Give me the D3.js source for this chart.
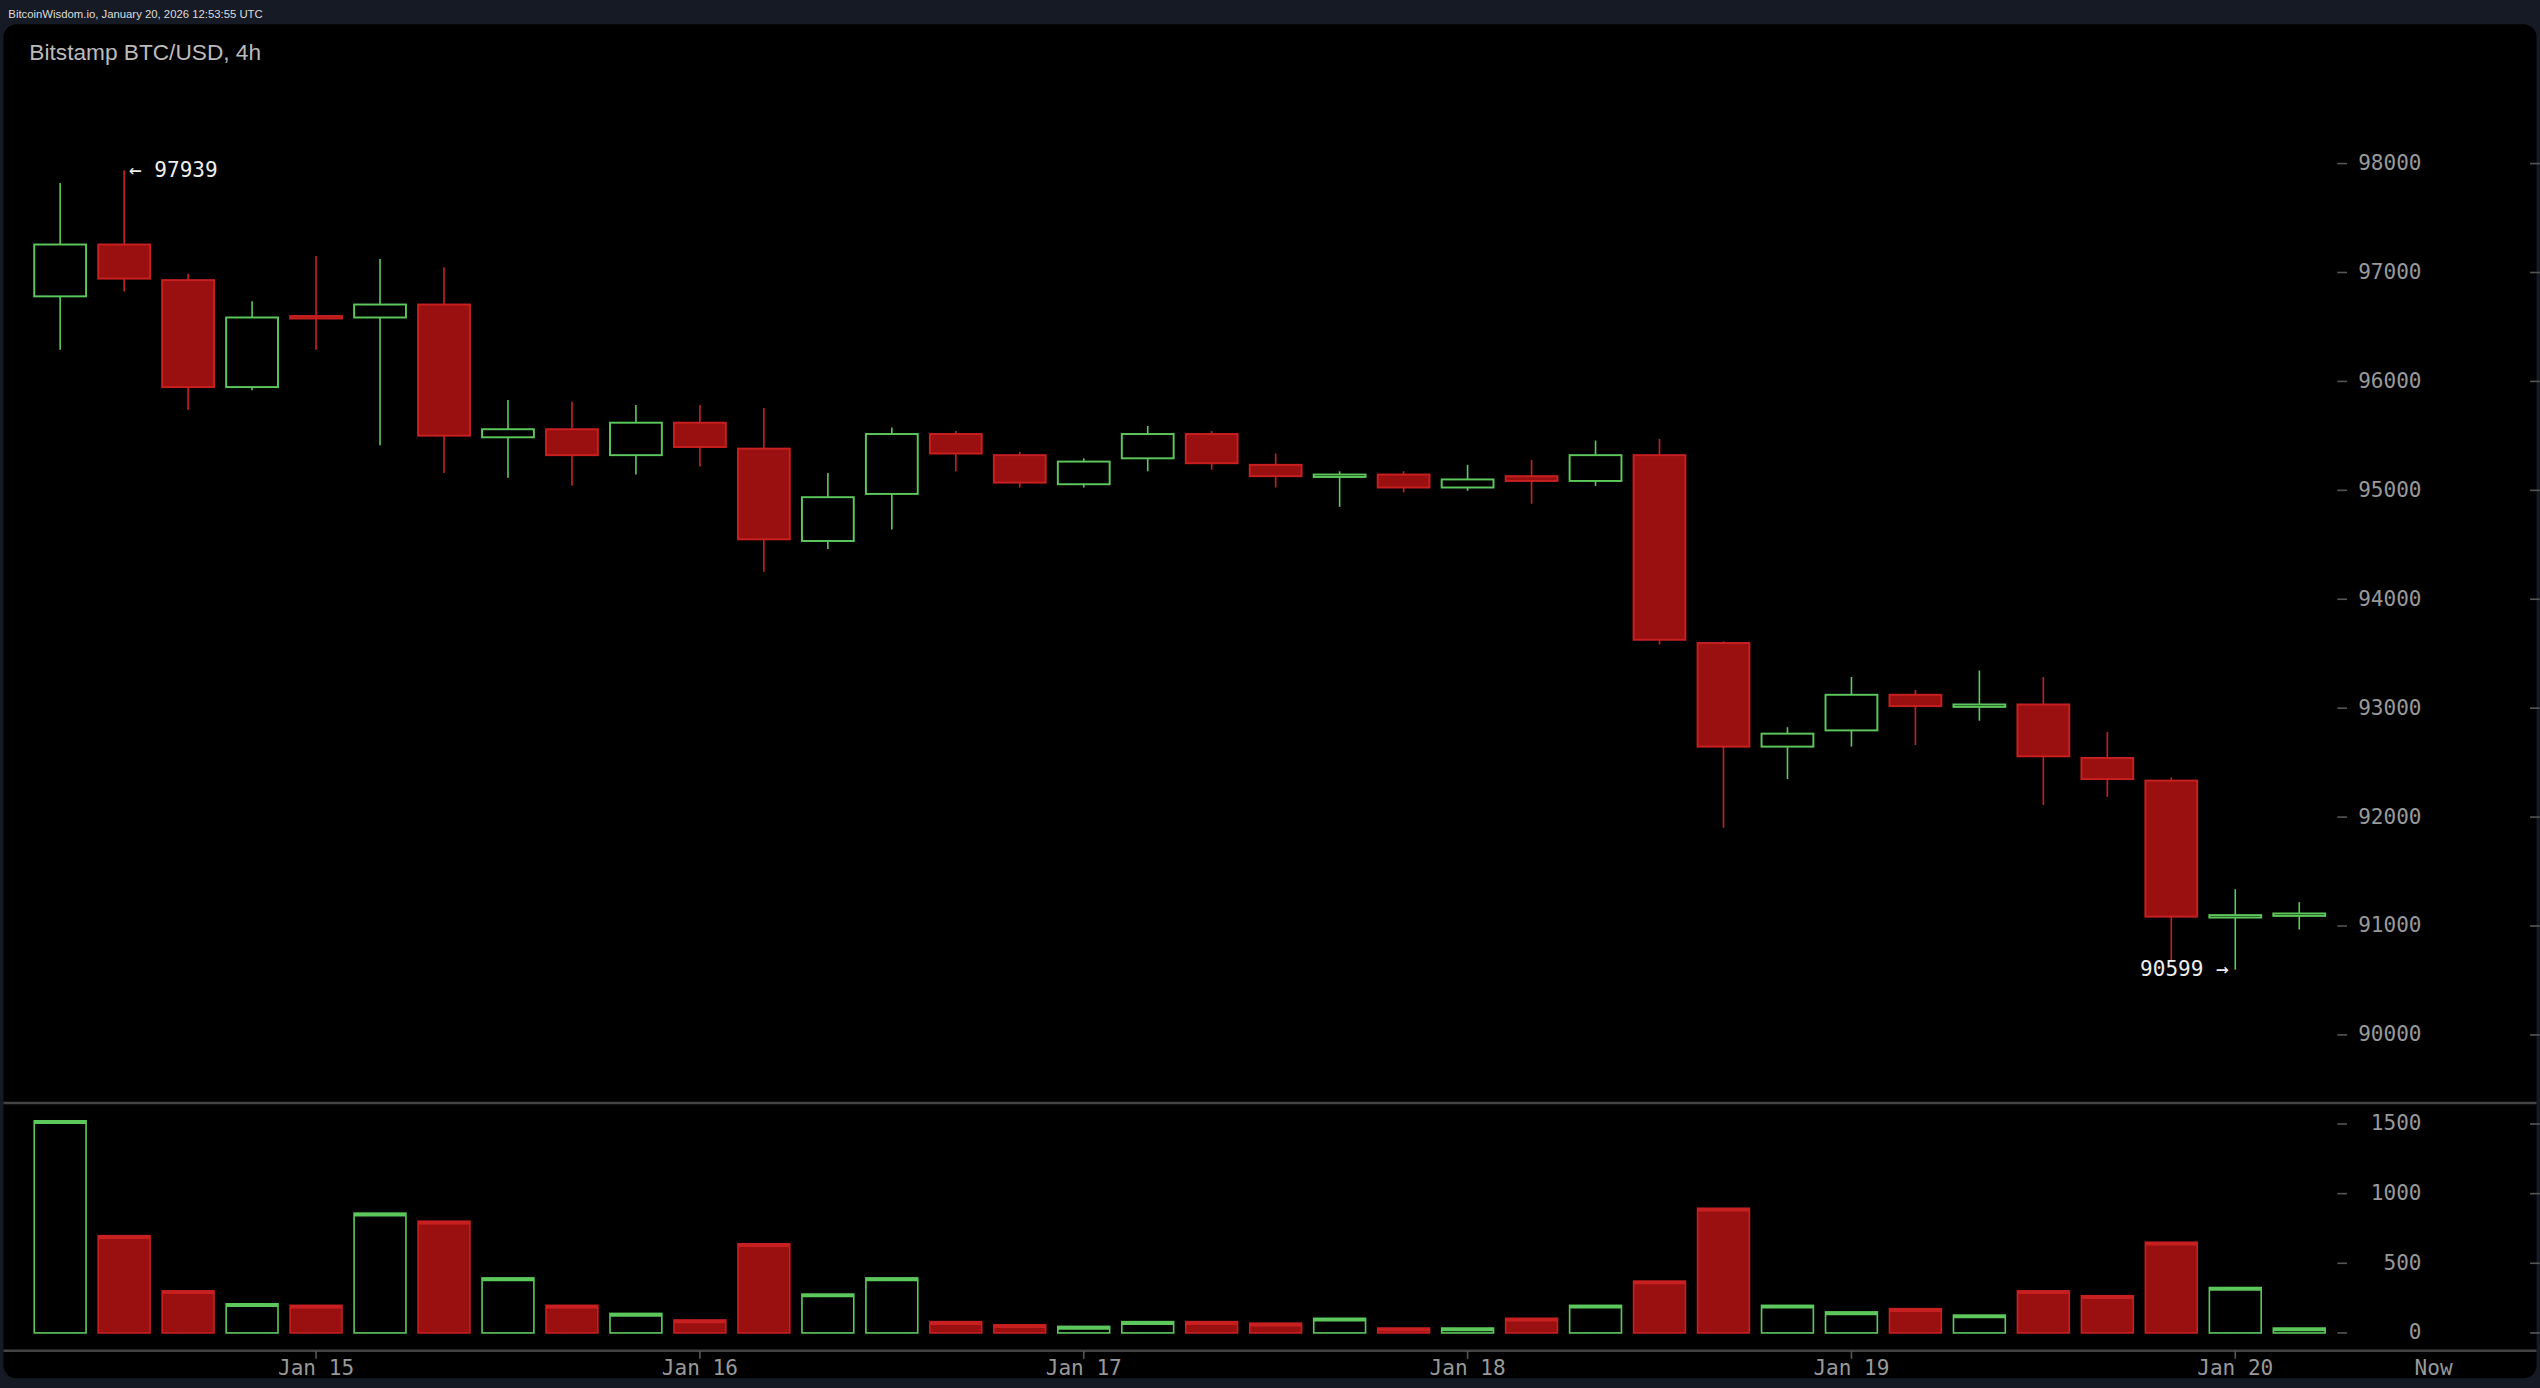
<!DOCTYPE html>
<html><head><meta charset="utf-8">
<script src="https://cdn.jsdelivr.net/npm/d3@7"></script>
<style>
html,body{margin:0;background:#151a25;overflow:hidden}
svg{display:block}
</style></head><body>
<svg id="chart" width="2540" height="1388" viewBox="0 0 1568 857"></svg>
<script>
// OHLC, one candle per 4h, first = Jan 14 08:00
const opens  = [96781,97257,96930,95948,96600,96587,96706,95487,95561,95323,95621,95383,94535,94967,95517,95323,95056,95294,95517,95234,95130,95145,95026,95130,95086,95323,93598,92647,92796,93123,93019,93034,92543,92335,91086,91100];
const closes = [97257,96944,95948,96587,96580,96706,95502,95561,95323,95621,95398,94550,94937,95517,95338,95071,95264,95517,95249,95130,95145,95026,95100,95086,95323,93628,92647,92766,93123,93019,93034,92558,92349,91086,91100,91115];
const highs  = [97822,97939,96989,96735,97152,97123,97048,95829,95814,95784,95784,95755,95160,95576,95546,95353,95294,95591,95546,95338,95175,95175,95234,95279,95457,95472,93613,92825,93286,93167,93346,93286,92781,92364,91338,91219];
const lows   = [96290,96825,95740,95918,96290,95413,95160,95115,95041,95145,95219,94253,94461,94640,95175,95026,95026,95175,95190,95026,94848,94981,94996,94877,95041,93584,91903,92349,92647,92662,92885,92112,92186,90669,90599,90967];
const volumes = [1523,698,302,209,198,860,802,395,198,140,93,640,279,395,81,58,47,81,81,70,105,35,35,105,198,372,895,198,151,174,128,302,267,651,326,35];
const priceTicks = [90000,91000,92000,93000,94000,95000,96000,97000,98000];
const volTicks = [0,500,1000,1500];
const dateTicks = [{i:4,t:"Jan 15"},{i:10,t:"Jan 16"},{i:16,t:"Jan 17"},{i:22,t:"Jan 18"},{i:28,t:"Jan 19"},{i:34,t:"Jan 20"},{i:37.1,t:"Now"}];

const green = "#5cc85c", redFill = "#9a1010", redStroke = "#c82020";
const svg = d3.select("#chart");

svg.append("text").attr("x",5).attr("y",11).attr("fill","#ddd")
  .style("font","7px 'Liberation Sans', Arial").text("BitcoinWisdom.io, January 20, 2026 12:53:55 UTC");
svg.append("rect").attr("x",2).attr("y",15).attr("width",1564).attr("height",836).attr("rx",8).attr("fill","#000");
svg.append("text").attr("x",18).attr("y",37).attr("fill","#bbb")
  .style("font","14px 'Liberation Sans', Arial").text("Bitstamp BTC/USD, 4h");

const x = d3.scaleLinear().domain([0,35]).range([37, 37+35*39.5]);
const y = d3.scaleLinear().domain([90000,98000]).range([639,101]);
const yv = d3.scaleLinear().domain([0,1500]).range([823,694]);
const bw = 32;

// separators
svg.append("line").attr("x1",2).attr("x2",1566).attr("y1",681).attr("y2",681).attr("stroke","#444").attr("stroke-width",1.5);
svg.append("line").attr("x1",2).attr("x2",1566).attr("y1",834).attr("y2",834).attr("stroke","#444").attr("stroke-width",1.5);

const mono = "13px 'DejaVu Sans Mono', monospace";
function axisRight(scale, ticks){
  const g = svg.append("g");
  ticks.forEach(t=>{
    const yy = scale(t);
    g.append("line").attr("x1",1443).attr("x2",1449).attr("y1",yy).attr("y2",yy).attr("stroke","#555");
    g.append("line").attr("x1",1562).attr("x2",1568).attr("y1",yy).attr("y2",yy).attr("stroke","#555");
    g.append("text").attr("x",1495).attr("y",yy+4).attr("text-anchor","end").attr("fill","#999").style("font",mono).text(t);
  });
}
axisRight(y, priceTicks);
axisRight(yv, volTicks);

const data = opens.map((o,i)=>({i,o,c:closes[i],h:highs[i],l:lows[i],v:volumes[i],up:closes[i]>=o}));

const cg = svg.append("g");
data.forEach(d=>{
  const col = d.up ? green : redStroke;
  cg.append("line").attr("x1",x(d.i)).attr("x2",x(d.i)).attr("y1",y(d.h)).attr("y2",y(d.l)).attr("stroke",col).attr("stroke-width",1);
  const top = y(Math.max(d.o,d.c)), bot = y(Math.min(d.o,d.c));
  const h = Math.max(bot-top,1.5);
  cg.append("rect").attr("x",x(d.i)-bw/2).attr("y",top).attr("width",bw).attr("height",h)
    .attr("fill",d.up?"#000":redFill).attr("stroke",col).attr("stroke-width",1.2);
  const vt = yv(d.v);
  cg.append("rect").attr("x",x(d.i)-bw/2).attr("y",vt).attr("width",bw).attr("height",yv(0)-vt)
    .attr("fill",d.up?"#000":redFill).attr("stroke",col).attr("stroke-width",1);
  cg.append("line").attr("x1",x(d.i)-bw/2).attr("x2",x(d.i)+bw/2).attr("y1",vt+1).attr("y2",vt+1).attr("stroke",col).attr("stroke-width",2);
});

// high / low annotations
const hiIdx = d3.maxIndex(highs), loIdx = d3.minIndex(lows);
svg.append("text").attr("x",x(hiIdx)+3).attr("y",y(highs[hiIdx])+4).attr("fill","#eee").style("font",mono)
  .text("\u2190 " + highs[hiIdx]);
svg.append("text").attr("x",x(loIdx)-4).attr("y",y(lows[loIdx])+4).attr("text-anchor","end").attr("fill","#eee").style("font",mono)
  .text(lows[loIdx] + " \u2192");

// date axis
dateTicks.forEach(d=>{
  const xx = x(d.i);
  if (d.t !== "Now") svg.append("line").attr("x1",xx).attr("x2",xx).attr("y1",834).attr("y2",839).attr("stroke","#555");
  svg.append("text").attr("x",xx).attr("y",849).attr("text-anchor","middle").attr("fill","#999").style("font",mono).text(d.t);
});
</script></body></html>
